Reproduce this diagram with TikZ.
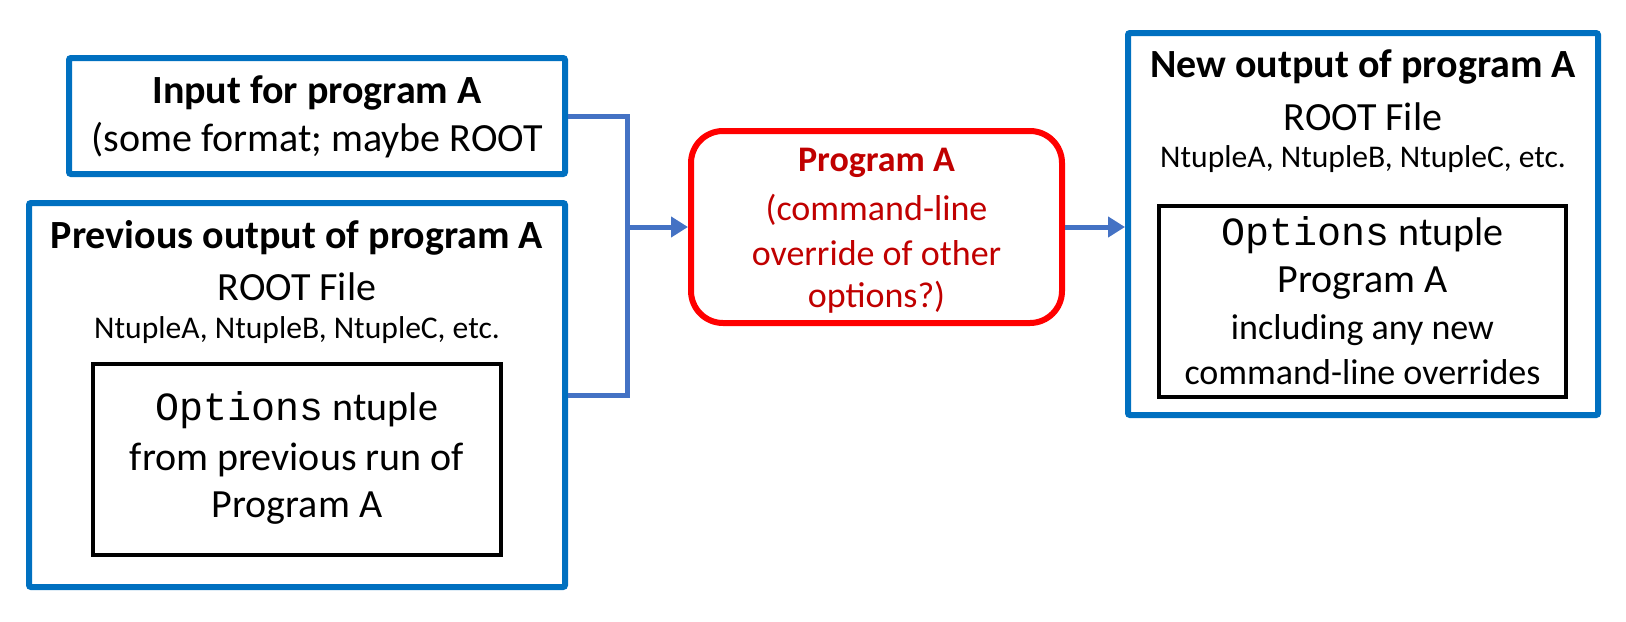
\documentclass[tikz,border=0pt]{standalone}
\usepackage{fontspec}
\setmainfont{Carlito}
\newfontfamily\optfont{Liberation Mono}
\usetikzlibrary{arrows.meta}

\definecolor{boxblue}{HTML}{0070C0}
\definecolor{linkblue}{HTML}{4472C4}
\definecolor{progred}{HTML}{FF0000}
\definecolor{textred}{HTML}{C00000}

\newcommand\bigtxt{\fontsize{20}{24}\selectfont}
\newcommand\progtxt{\fontsize{18}{22}\selectfont}
\newcommand\midtxt{\fontsize{18}{22}\selectfont}
\newcommand\smalltxt{\fontsize{15.8}{19}\selectfont}

\tikzset{
	bluebox/.style={draw=boxblue,line width=3pt,rounded corners=1pt,inner sep=0pt},
	optbox/.style={draw=black,line width=1.75pt,inner sep=0pt},
	progbox/.style={draw=progred,line width=3pt,rounded corners=16pt,inner sep=0pt},
	link/.style={draw=linkblue,line width=2.5pt},
	txt/.style={inner sep=0pt,font=\bigtxt}
}

\begin{document}
\begin{tikzpicture}[x=0.5pt,y=-0.5pt]
				\useasboundingbox (0,0) rectangle (1626,621);
				\coordinate (In) at (317,116);
				\coordinate (Prev) at (297,395);
				\coordinate (PrevOpt) at (297,459.5);
				\coordinate (Prog) at (876.5,227);
				\coordinate (New) at (1363,224);
				\coordinate (NewOpt) at (1362.5,301.5);
				\coordinate (J) at (627,227);

				\node at (In)[bluebox,minimum width=248pt,minimum height=58pt] (input) {};
				\node at (Prev)[bluebox,minimum width=268pt,minimum height=192pt] (prev) {};
				\node at (PrevOpt)[optbox,minimum width=204pt,minimum height=95.5pt] (prevopt) {};
				\node at (Prog)[progbox,minimum width=185.5pt,minimum height=96pt] (prog) {};
				\node at (New)[bluebox,minimum width=235pt,minimum height=191pt] (new) {};
				\node at (NewOpt)[optbox,minimum width=203.5pt,minimum height=95.5pt] (newopt) {};

				\draw[link] (input.east) -| (J) |- (prev.east);
				\draw[link,-{Triangle[length=8.5pt,width=10pt]}] (J) -- (prog.west);
				\draw[link,-{Triangle[length=8.5pt,width=10pt]}] (prog.east) -- (prog.east -| new.west);

				\node at (317,93)[txt,font=\bigtxt\bfseries] (intitle) {Input for program A};
				\node at (317,140)[txt] (informat) {(some format; maybe ROOT};

				\node at (297,238)[txt,font=\bigtxt\bfseries] (prevtitle) {Previous output of program A};
				\node at (297,287)[txt] (prevfile) {ROOT File};
				\node at (297,330)[txt,font=\smalltxt] (prevtuples) {NtupleA, NtupleB, NtupleC, etc.};
				\node at (297,410)[txt] (prevopt1) {{\optfont Options} ntuple};
				\node at (297,460)[txt] (prevopt2) {from previous run of};
				\node at (297,508)[txt] (prevopt3) {Program A};

				\node at (876.5,163)[txt,font=\progtxt\bfseries,text=textred] (progname) {Program A};
				\node at (876.5,210)[txt,font=\progtxt,text=textred] (prog1) {(command-line};
				\node at (876.5,253)[txt,font=\progtxt,text=textred] (prog2) {override of other};
				\node at (876.5,297)[txt,font=\progtxt,text=textred] (prog3) {options?)};

				\node at (1363,67)[txt,font=\bigtxt\bfseries] (newtitle) {New output of program A};
				\node at (1363,117)[txt] (newfile) {ROOT File};
				\node at (1363,159)[txt,font=\smalltxt] (newtuples) {NtupleA, NtupleB, NtupleC, etc.};
				\node at (1362.5,235)[txt] (newopt1) {{\optfont Options} ntuple};
				\node at (1362.5,283)[txt] (newopt2) {Program A};
				\node at (1362.5,330)[txt,font=\midtxt] (newopt3) {including any new};
				\node at (1362.5,372)[txt,font=\midtxt] (newopt4) {command-line overrides};
			\end{tikzpicture}
\end{document}
